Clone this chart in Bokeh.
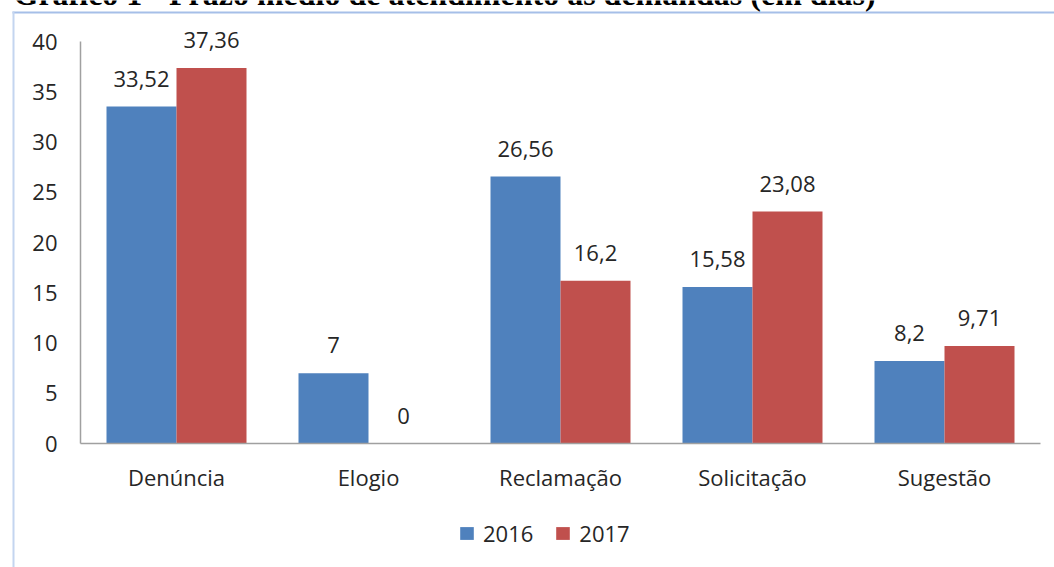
from bokeh.plotting import figure
from bokeh.models import (ColumnDataSource, Range1d, Legend, LegendItem, FixedTicker,
                          LabelSet, Label, BoxAnnotation)
from bokeh.transform import dodge
from bokeh.embed import file_html
from bokeh.resources import INLINE
from bokeh.core.properties import value

# ---- data ----
title_text = "Gráfico 1 - Prazo médio de atendimento às demandas (em dias)"
categories = ["Denúncia", "Elogio", "Reclamação", "Solicitação", "Sugestão"]
values_2016 = [33.52, 7, 26.56, 15.58, 8.2]
values_2017 = [37.36, 0, 16.2, 23.08, 9.71]
series_names = ["2016", "2017"]
y_ticks = [0, 5, 10, 15, 20, 25, 30, 35, 40]


def fmt(v):
    return f"{v:g}".replace(".", ",")


x_pos = [i + 0.5 for i in range(len(categories))]
src = ColumnDataSource(dict(
    x=x_pos,
    v16=values_2016,
    v17=values_2017,
    l16=[fmt(v) for v in values_2016],
    l17=[fmt(v) for v in values_2017],
))

BLUE = "#4F81BD"
RED = "#C0504D"
TXT = "#262626"
FONT = "Open Sans"
FS = "22px"

W, H = 1054, 567
PX_X = 192.0      # pixels per category
PX_Y = 10.05      # pixels per day
X0, Y0 = 80, 443  # page position of the axes origin

p = figure(
    x_range=Range1d(-X0 / PX_X, (W - X0) / PX_X),
    y_range=Range1d(-(H - Y0) / PX_Y, Y0 / PX_Y),
    width=W, height=H,
    output_backend="svg", toolbar_location=None,
    min_border_left=0, min_border_right=0,
    min_border_top=0, min_border_bottom=0,
)

bw = 70 / PX_X
r16 = p.vbar(x=dodge("x", -bw / 2), top="v16", width=bw,
             source=src, fill_color=BLUE, line_color=None)
r17 = p.vbar(x=dodge("x", bw / 2), top="v17", width=bw,
             source=src, fill_color=RED, line_color=None)

for col, lab, off in (("v16", "l16", -bw / 2), ("v17", "l17", bw / 2)):
    p.add_layout(LabelSet(
        x=dodge("x", off), y=col, text=lab, source=src,
        text_align="center", text_baseline="alphabetic", y_offset=20,
        text_font=value(FONT), text_font_size=value(FS), text_color=TXT,
    ))

# axes inside the frame
p.xgrid.grid_line_color = None
p.ygrid.grid_line_color = None
p.outline_line_color = None
p.yaxis.ticker = FixedTicker(ticks=y_ticks)
p.yaxis.bounds = (0, 40)
p.yaxis.fixed_location = 0
p.xaxis.ticker = FixedTicker(ticks=x_pos)
p.xaxis.major_label_overrides = {x: c for x, c in zip(x_pos, categories)}
p.xaxis.bounds = (0, len(categories))
p.xaxis.fixed_location = 0
for ax in (p.xaxis[0], p.yaxis[0]):
    ax.axis_line_color = "#a0a0a0"
    ax.axis_line_width = 1.5
    ax.major_tick_line_color = None
    ax.minor_tick_line_color = None
    ax.major_tick_out = 0
    ax.major_tick_in = 0
    ax.minor_tick_out = 0
    ax.major_label_text_font = FONT
    ax.major_label_text_font_size = FS
    ax.major_label_text_color = TXT
p.yaxis.major_label_standoff = 23
p.xaxis.major_label_standoff = 18

legend = Legend(
    items=[LegendItem(label=series_names[0], renderers=[r16]),
           LegendItem(label=series_names[1], renderers=[r17])],
    location=(458, H - 548), orientation="horizontal",
    border_line_color=None, background_fill_alpha=0,
    padding=0, spacing=21, label_standoff=8, margin=0,
    glyph_width=17, glyph_height=16,
    label_text_font=FONT, label_text_font_size=FS, label_text_color=TXT,
)
p.add_layout(legend, "center")

# frame border of the original picture and its clipped title
p.add_layout(BoxAnnotation(left=12, right=W, bottom=H - 13, top=H - 11,
                           left_units="screen", right_units="screen",
                           top_units="screen", bottom_units="screen",
                           fill_color="#a6bfe8", fill_alpha=1, line_color=None))
p.add_layout(BoxAnnotation(left=12, right=14, bottom=0, top=H - 11,
                           left_units="screen", right_units="screen",
                           top_units="screen", bottom_units="screen",
                           fill_color="#c4d5f0", fill_alpha=1, line_color=None))
p.add_layout(Label(x=13, y=H + 7, x_units="screen", y_units="screen",
                   text=title_text, text_font="Liberation Serif",
                   text_font_style="bold", text_font_size="32px",
                   text_color="black", text_baseline="alphabetic"))

open("out.html", "w").write(file_html(p, INLINE))
